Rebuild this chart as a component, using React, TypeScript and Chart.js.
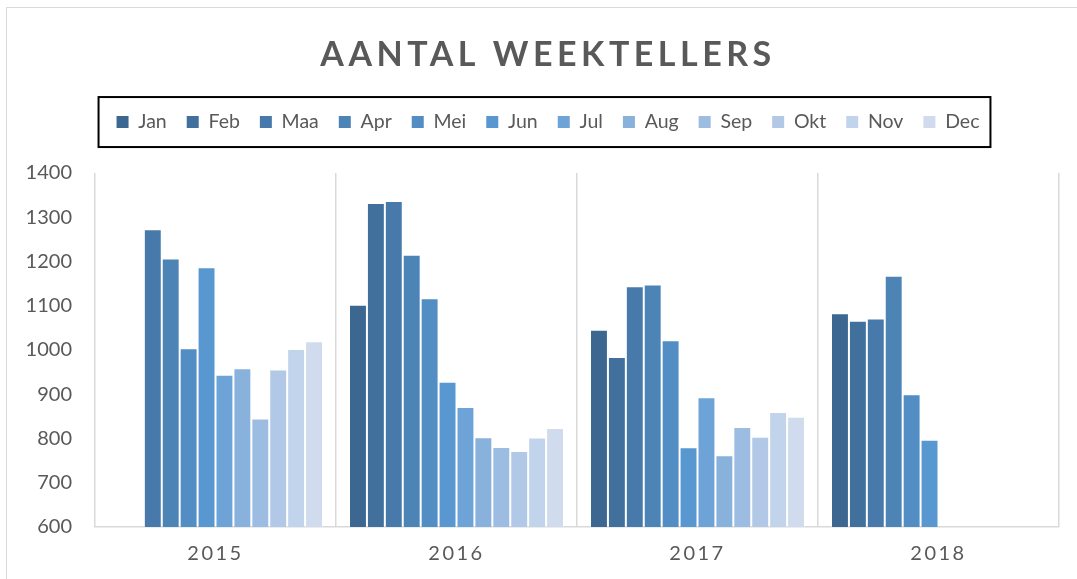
import React, { useEffect, useRef } from "react";
import { Chart, registerables } from "chart.js";

Chart.register(...registerables);

const years = ["2015", "2016", "2017", "2018"];
const months = ["Jan", "Feb", "Maa", "Apr", "Mei", "Jun", "Jul", "Aug", "Sep", "Okt", "Nov", "Dec"];

const janValues = [null, 1102, 1046, 1083];
const febValues = [null, 1332, 984, 1066];
const maaValues = [1273, 1337, 1144, 1071];
const aprValues = [1207, 1215, 1148, 1168];
const meiValues = [1004, 1117, 1022, 900];
const junValues = [1187, 928, 780, 797];
const julValues = [944, 871, 893, null];
const augValues = [959, 803, 762, null];
const sepValues = [845, 781, 826, null];
const oktValues = [956, 772, 804, null];
const novValues = [1002, 802, 860, null];
const decValues = [1020, 824, 849, null];

const monthValues = [
  janValues, febValues, maaValues, aprValues, meiValues, junValues,
  julValues, augValues, sepValues, oktValues, novValues, decValues,
];

const monthColors = [
  "#3b6790", "#41709c", "#477aaa", "#4d84b6", "#528ec3", "#5997d0",
  "#6ea3d8", "#88b1dc", "#9dbce1", "#b1c8e6", "#c2d4eb", "#d0dcee",
];

const titleText = "AANTAL WEEKTELLERS";
const yMin = 600;
const yMax = 1400;
const yStep = 100;

const FONT = "Lato, 'Open Sans', sans-serif";
const TEXT_COLOR = "#595959";
const GRID_COLOR = "#d9d9d9";

const stylePlugin = {
  id: "stylePlugin",
  beforeDraw(chart: any) {
    const ctx = chart.ctx;
    const t = chart.titleBlock;
    if (t && !t.__ls) {
      const orig = t.draw.bind(t);
      t.draw = (...a: any[]) => {
        ctx.save();
        ctx.letterSpacing = "4.5px";
        orig(...a);
        ctx.restore();
      };
      t.__ls = true;
    }
    const xs = chart.scales.x;
    if (xs && !xs.__ls) {
      const o = xs.drawLabels.bind(xs);
      xs.drawLabels = (...a: any[]) => {
        ctx.save();
        ctx.letterSpacing = "2.5px";
        o(...a);
        ctx.restore();
      };
      xs.__ls = true;
    }
    const ys = chart.scales.y;
    if (ys && !ys.__nc) {
      ys._computeLabelArea = () => undefined;
      ys.__nc = true;
    }
  },
  afterDraw(chart: any) {
    const lg = chart.legend;
    const hb = lg && lg.legendHitBoxes;
    if (!hb || !hb.length) return;
    const ctx = chart.ctx;
    const minX = Math.min(...hb.map((h: any) => h.left));
    const maxX = Math.max(...hb.map((h: any) => h.left + h.width));
    const cy = hb[0].top + hb[0].height / 2;
    ctx.save();
    ctx.strokeStyle = "#000";
    ctx.lineWidth = 2;
    ctx.strokeRect(minX - 18, cy - 25, maxX - minX + 29, 50);
    ctx.restore();
  },
};

export default function App() {
  const ref = useRef<HTMLCanvasElement>(null);

  useEffect(() => {
    const chart = new Chart(ref.current as HTMLCanvasElement, {
      type: "bar",
      data: {
        labels: years,
        datasets: months.map((m, i) => ({
          label: m,
          data: monthValues[i],
          backgroundColor: monthColors[i],
          borderColor: "rgba(255,255,255,0.35)",
          borderWidth: 1,
          categoryPercentage: 0.892,
          barPercentage: 1,
        })),
      },
      options: {
        animation: false,
        responsive: true,
        maintainAspectRatio: false,
        layout: { padding: { left: 37, right: 18, top: 0, bottom: 0 } },
        plugins: {
          title: {
            display: true,
            text: titleText,
            color: TEXT_COLOR,
            font: { family: FONT, size: 34, weight: "bold" },
            padding: { top: 35, bottom: 16.5 },
          },
          subtitle: {
            display: true,
            text: "",
            weight: 500,
            font: { size: 1 },
            padding: { top: 30, bottom: 0 },
          } as any,
          legend: {
            display: true,
            position: "top",
            labels: {
              color: TEXT_COLOR,
              font: { family: FONT, size: 19.5 },
              boxWidth: 12,
              boxHeight: 12,
              padding: 20,
              generateLabels: (c: any) =>
                (Chart.defaults.plugins.legend.labels as any)
                  .generateLabels(c)
                  .map((l: any) => ({ ...l, lineWidth: 0, strokeStyle: l.fillStyle })),
            },
          },
          tooltip: { enabled: false },
        },
        scales: {
          x: {
            grid: { display: true, color: GRID_COLOR, lineWidth: 1.5, drawTicks: false, offset: true },
            border: { display: true, color: GRID_COLOR, width: 1.5 },
            ticks: {
              color: TEXT_COLOR,
              font: { family: FONT, size: 20 },
              padding: 15,
            },
            afterFit: (s: any) => {
              s.height = 52;
            },
          },
          y: {
            min: yMin,
            max: yMax,
            grid: { display: false, drawTicks: false },
            border: { display: false },
            ticks: {
              stepSize: yStep,
              color: TEXT_COLOR,
              font: { family: FONT, size: 20 },
              padding: 23,
              callback: (v: any) => String(v),
            },
            afterFit: (s: any) => {
              s.width = 58;
            },
          },
        },
      },
      plugins: [stylePlugin],
    } as any);
    return () => chart.destroy();
  }, []);

  return (
    <div style={{ position: "relative", width: 1077, height: 579, overflow: "hidden", background: "#fff" }}>
      <style>{`body{margin:0;}`}</style>
      <div
        style={{
          position: "absolute",
          left: 6,
          top: 7,
          width: 1300,
          height: 800,
          borderLeft: "1.5px solid #d9d9d9",
          borderTop: "1.5px solid #d9d9d9",
        }}
      />
      <div style={{ position: "absolute", left: 0, top: 0, width: 1077, height: 579 }}>
        <canvas ref={ref} />
      </div>
    </div>
  );
}
